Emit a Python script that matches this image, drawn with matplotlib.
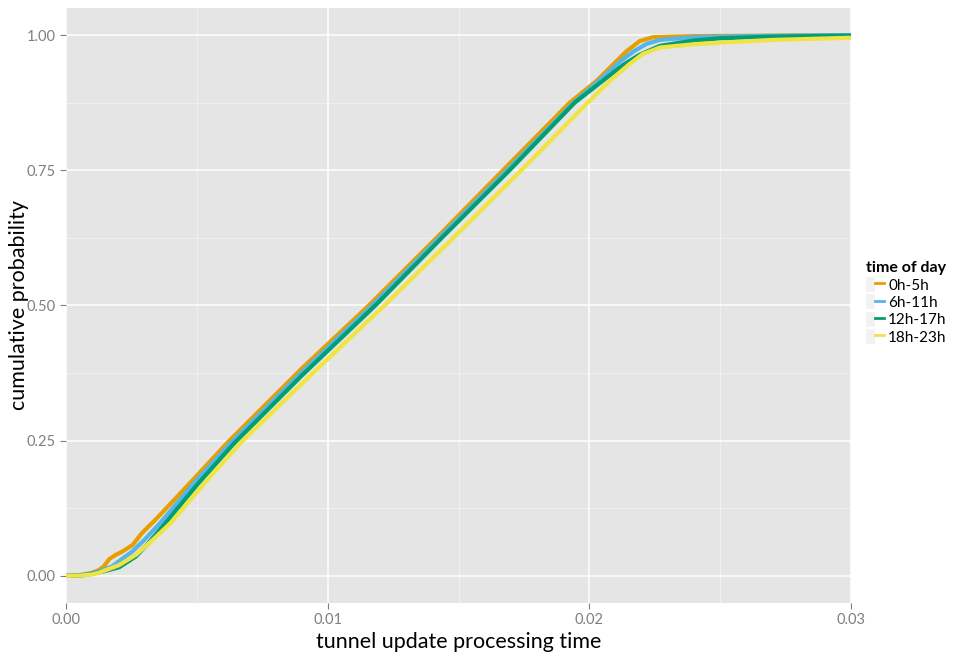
import matplotlib
matplotlib.use("Agg")
import matplotlib.pyplot as plt
from matplotlib.lines import Line2D
from matplotlib.patches import Patch
from matplotlib.legend_handler import HandlerTuple

plt.rcParams['font.family'] = ['Lato', 'DejaVu Sans']

# Empirical CDFs of tunnel update processing time, by time of day
series_names = ["0h-5h", "6h-11h", "12h-17h", "18h-23h"]
series_colors = ["#E69F00", "#56B4E9", "#009E73", "#F0E442"]

x_0_5 = [0, 0.0006, 0.0010, 0.00126, 0.00145, 0.00165, 0.0019, 0.00215, 0.00254,
         0.0029, 0.0035, 0.0048, 0.0062, 0.0090, 0.01157, 0.0142, 0.0167,
         0.01925, 0.02027, 0.0210, 0.02142, 0.02193, 0.02243, 0.0240, 0.0270, 0.0300]
y_0_5 = [0, 0.002, 0.006, 0.011, 0.018, 0.031, 0.039, 0.045, 0.057,
         0.079, 0.108, 0.175, 0.248, 0.383, 0.500, 0.627, 0.750,
         0.875, 0.915, 0.950, 0.970, 0.989, 0.996, 0.998, 0.999, 1.000]

x_6_11 = [0, 0.0006, 0.0010, 0.0013, 0.00177, 0.0021, 0.00253, 0.0030, 0.0036,
          0.0049, 0.0063, 0.0090, 0.0117, 0.0143, 0.01685, 0.0194, 0.0204,
          0.0212, 0.0217, 0.0222, 0.0227, 0.0240, 0.0260, 0.0300]
y_6_11 = [0, 0.002, 0.005, 0.009, 0.018, 0.030, 0.045, 0.067, 0.098,
          0.172, 0.246, 0.376, 0.500, 0.627, 0.750, 0.875, 0.917,
          0.952, 0.970, 0.984, 0.991, 0.996, 0.998, 1.000]

x_12_17 = [0, 0.0006, 0.0010, 0.0014, 0.00203, 0.00267, 0.0031, 0.0037, 0.0050,
           0.0064, 0.0090, 0.01182, 0.0144, 0.01695, 0.01944, 0.0205, 0.0213,
           0.0219, 0.0227, 0.0240, 0.0250, 0.0270, 0.0300]
y_12_17 = [0, 0.001, 0.004, 0.008, 0.016, 0.036, 0.058, 0.092, 0.168,
           0.244, 0.370, 0.500, 0.627, 0.750, 0.875, 0.915, 0.945,
           0.963, 0.980, 0.990, 0.994, 0.997, 0.999]

x_18_23 = [0, 0.0006, 0.0010, 0.00126, 0.00203, 0.00267, 0.0033, 0.0040, 0.0053,
           0.006747, 0.0095, 0.01217, 0.0148, 0.0174, 0.01994, 0.02078, 0.0215,
           0.02204, 0.0227, 0.0240, 0.0250, 0.0270, 0.0300]
y_18_23 = [0, 0.001, 0.003, 0.006, 0.020, 0.039, 0.066, 0.098, 0.172,
           0.250, 0.378, 0.500, 0.625, 0.750, 0.875, 0.915, 0.945,
           0.965, 0.977, 0.983, 0.986, 0.991, 0.995]

x_ticks = [0.00, 0.01, 0.02, 0.03]
x_tick_labels = ["0.00", "0.01", "0.02", "0.03"]
y_ticks = [0.00, 0.25, 0.50, 0.75, 1.00]
y_tick_labels = ["0.00", "0.25", "0.50", "0.75", "1.00"]
x_minor = [0.005, 0.015, 0.025]
y_minor = [0.125, 0.375, 0.625, 0.875]

series_x = [x_0_5, x_6_11, x_12_17, x_18_23]
series_y = [y_0_5, y_6_11, y_12_17, y_18_23]

fig = plt.figure(figsize=(9.63, 6.53), dpi=100)
ax = fig.add_axes([66 / 963, 1 - 603 / 653, 785 / 963, 595 / 653])
ax.set_facecolor("#E5E5E5")

for v in x_minor:
    ax.axvline(v, color="#F2F2F2", lw=0.6, zorder=0)
for v in y_minor:
    ax.axhline(v, color="#F2F2F2", lw=0.6, zorder=0)
for v in x_ticks:
    ax.axvline(v, color="white", lw=1.1, zorder=0.5)
for v in y_ticks:
    ax.axhline(v, color="white", lw=1.1, zorder=0.5)

for xs, ys, c in zip(series_x, series_y, series_colors):
    ax.plot(xs, ys, color=c, lw=3.0, solid_capstyle="butt", zorder=2)

ax.set_xlim(0, 0.03)
ax.set_ylim(-0.05, 1.05)
ax.set_xticks(x_ticks)
ax.set_xticklabels(x_tick_labels)
ax.set_yticks(y_ticks)
ax.set_yticklabels(y_tick_labels)
ax.tick_params(axis="both", colors="#7F7F7F", labelcolor="#7F7F7F",
               labelsize=10.5, length=4, width=0.8, direction="out")
for s in ax.spines.values():
    s.set_visible(False)

ax.set_xlabel("tunnel update processing time", fontsize=15.5, color="black", labelpad=3)
ax.set_ylabel("cumulative probability", fontsize=15.5, color="black")
ax.yaxis.set_label_coords(-0.047, 0.5)

handles = [(Patch(facecolor="#F2F2F2", edgecolor="none"),
            Line2D([0], [0], color=c, lw=2)) for c in series_colors]
leg = fig.legend(handles, series_names, title="time of day",
                 handler_map={tuple: HandlerTuple(ndivide=None, pad=0)},
                 loc="center left", bbox_to_anchor=(860 / 963, 1 - 303 / 653),
                 frameon=False, fontsize=11, handlelength=1.15, handleheight=1.1,
                 handletextpad=0.3, labelspacing=0.12, borderaxespad=0)
leg.get_title().set_fontweight("bold")
leg.get_title().set_fontsize(11.5)
leg._legend_box.align = "left"

fig.savefig("out.png", dpi=100)
